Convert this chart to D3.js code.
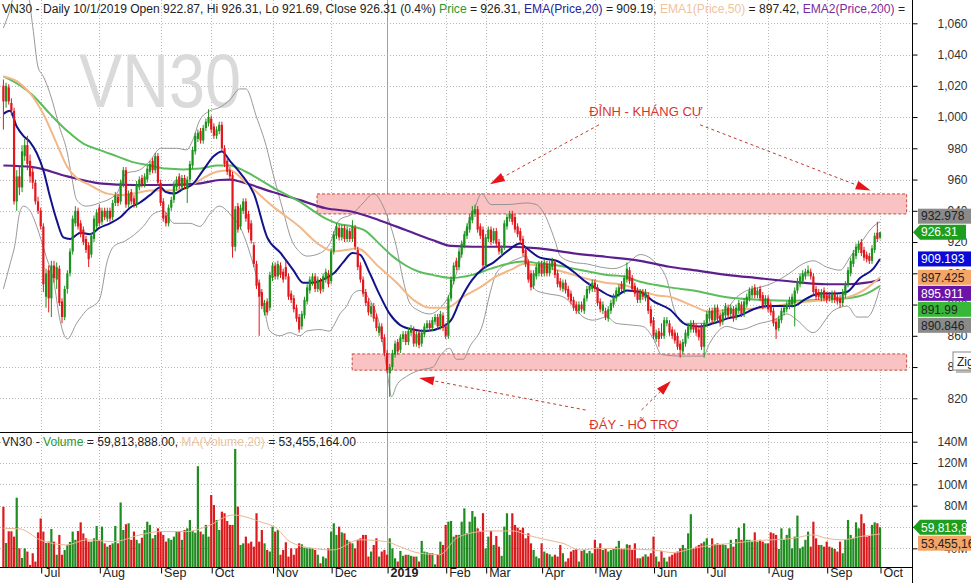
<!DOCTYPE html>
<html><head><meta charset="utf-8">
<script src="https://cdn.jsdelivr.net/npm/d3@7"></script>
<style>body{margin:0;background:#fff;overflow:hidden}svg{display:block;font-family:"Liberation Sans",Arial,sans-serif}</style>
</head><body><svg id="c" width="971" height="583"></svg>
<script>
// ---------- DATA ----------
const ohlc = [
[1020,1024,992,1010],[1010,1022,1006,1020],[1019,1021,1008,1010],[1009,1012,1001,1004],[1004,1006,944,946],
[946,966,940,962],[962,968,950,955],[955,982,952,978],[975,986,972,982],[982,988,966,970],
[972,976,958,962],[965,968,954,958],[958,960,944,946],[946,949,938,940],[940,942,928,930],
[930,932,888,893],[885,903,878,900],[902,905,875,884],[884,908,872,905],[905,908,894,897],
[896,907,890,904],[903,905,879,881],[882,884,868,872],[872,892,870,890],[890,902,887,900],
[900,916,898,914],[914,937,912,935],[932,943,930,940],[940,942,928,930],[932,934,923,925],
[928,930,918,920],[922,924,913,915],[918,920,904,909],[912,926,910,924],[922,937,920,935],
[930,941,928,939],[942,944,930,932],[933,942,931,940],[940,942,934,936],[935,942,933,940],
[940,942,933,935],[936,947,934,945],[945,952,943,950],[949,951,943,945],[946,960,944,958],
[957,968,955,966],[966,968,942,944],[944,953,942,951],[952,954,944,946],[948,950,942,944],
[944,959,942,957],[955,962,953,960],[961,963,955,957],[957,964,955,962],[960,969,958,967],
[965,972,963,970],[972,974,964,966],[966,977,964,975],[975,977,956,958],[958,960,943,945],
[946,948,933,935],[937,939,930,932],[932,944,930,942],[942,949,940,947],[947,959,945,957],
[955,962,953,960],[962,964,954,956],[955,963,953,961],[961,963,954,956],[954,962,945,960],
[960,972,958,970],[969,981,967,979],[978,990,976,988],[986,992,984,990],[991,993,983,985],
[985,995,983,993],[993,999,991,997],[996,1005,994,1000],[999,1001,990,992],[994,996,986,988],
[988,994,986,992],[991,997,989,995],[995,997,978,980],[980,982,968,970],[972,974,963,965],
[966,968,960,962],[963,965,910,917],[917,943,914,941],[943,945,926,928],[930,944,928,942],
[940,948,938,946],[946,948,933,935],[938,940,926,928],[932,934,919,921],[918,920,904,906],
[906,908,890,892],[894,896,860,885],[888,890,877,879],[875,883,873,881],[882,884,873,875],
[878,901,876,899],[897,907,895,905],[905,907,896,898],[898,908,896,906],[905,907,897,899],
[901,903,894,896],[904,908,896,898],[898,900,883,885],[887,889,881,883],[884,886,875,877],
[878,880,869,871],[872,874,862,864],[866,876,864,874],[873,885,871,883],[882,893,880,891],
[889,898,887,896],[894,900,892,898],[898,900,888,890],[890,898,888,896],[895,897,887,889],
[890,900,888,898],[896,903,894,901],[900,902,891,893],[895,916,893,914],[914,927,912,925],
[924,932,922,930],[929,931,921,923],[923,931,921,929],[929,931,920,922],[922,930,920,928],
[927,929,920,922],[922,934,920,930],[929,931,915,917],[915,917,902,904],[905,907,894,896],
[896,898,885,887],[888,890,879,881],[882,884,873,875],[874,881,872,879],[879,881,869,871],
[872,874,863,865],[862,868,860,866],[866,868,856,858],[859,861,847,849],[849,851,836,838],
[836,842,821,840],[840,851,838,849],[848,857,846,855],[856,858,848,850],[851,861,849,859],
[858,863,856,861],[861,863,854,856],[856,865,854,863],[862,867,860,865],[864,866,853,855],
[855,863,853,861],[862,864,852,854],[855,864,853,862],[861,868,859,866],[865,870,863,868],
[868,870,863,865],[865,872,863,870],[869,874,867,872],[872,874,864,866],[866,876,864,874],
[873,875,863,865],[866,868,858,860],[860,886,858,884],[884,898,882,896],[895,907,893,905],
[908,910,902,904],[904,916,902,914],[912,921,910,919],[918,927,916,925],[924,932,922,930],
[928,938,926,936],[934,943,932,940],[938,944,936,941],[941,943,926,928],[930,932,922,924],
[928,930,903,905],[905,925,903,923],[922,930,920,928],[928,930,918,920],[921,929,919,927],
[927,929,917,919],[920,922,912,914],[913,918,911,916],[917,934,915,932],[930,938,928,936],
[935,940,933,938],[938,940,931,933],[936,938,926,928],[930,932,923,925],[927,929,919,921],
[922,924,911,913],[915,917,904,906],[907,909,894,896],[900,902,889,891],[892,902,890,900],
[898,906,896,904],[900,908,898,906],[906,908,898,900],[900,909,898,907],[906,908,898,900],
[900,908,898,906],[904,910,902,908],[907,909,897,899],[900,902,891,893],[895,897,889,891],
[890,896,888,894],[894,896,887,889],[890,892,883,885],[887,889,880,882],[883,885,876,878],
[880,882,874,876],[876,882,874,880],[880,882,875,877],[876,886,874,884],[884,892,882,890],
[889,894,887,892],[890,896,888,894],[894,896,888,890],[891,893,879,881],[882,884,875,877],
[876,882,874,880],[876,878,870,872],[871,879,869,877],[876,883,874,881],[880,887,878,885],
[884,891,882,889],[887,893,885,891],[893,895,888,890],[889,899,887,897],[896,907,894,903],
[902,904,893,895],[897,899,888,890],[892,894,885,887],[889,891,881,883],[883,890,881,888],
[888,890,883,885],[884,890,882,888],[886,888,874,876],[877,879,866,868],[870,872,858,860],
[858,864,856,862],[863,865,853,858],[862,868,858,860],[860,872,858,870],[868,872,866,870],
[868,870,860,862],[864,866,858,860],[862,864,855,857],[860,862,851,853],[855,857,846,851],
[850,858,848,856],[855,864,853,862],[860,868,858,866],[864,870,862,868],[868,870,862,864],
[866,868,860,862],[864,866,857,859],[866,868,851,853],[853,870,846,868],[868,876,866,874],
[871,878,869,876],[876,878,868,870],[870,880,868,878],[878,880,869,871],[873,875,866,868],
[869,877,867,875],[873,881,871,879],[878,880,871,873],[874,880,872,878],[877,879,869,871],
[872,880,870,878],[876,883,874,881],[880,882,872,874],[874,884,872,882],[880,887,878,885],
[884,891,882,889],[886,892,884,890],[891,893,884,886],[886,891,884,889],[890,892,882,884],
[886,888,877,879],[880,886,878,884],[884,886,875,877],[880,882,873,875],[876,878,866,868],
[869,871,858,864],[865,873,863,871],[870,878,868,876],[875,880,873,878],[877,882,875,880],
[879,885,877,883],[880,887,878,885],[881,891,866,889],[889,897,887,895],[893,900,891,898],
[895,902,893,900],[898,903,896,901],[900,905,898,902],[901,903,896,898],[898,900,886,888],
[890,892,883,885],[888,890,883,885],[884,890,882,888],[889,891,882,884],[886,888,881,883],
[886,888,882,884],[883,889,881,887],[887,889,881,883],[885,887,880,882],[884,886,878,881],
[881,890,879,888],[886,895,884,893],[893,904,891,902],[900,910,898,908],[906,915,904,913],
[911,919,909,917],[915,921,913,919],[920,922,911,913],[915,917,908,910],[912,914,907,909],
[911,913,906,908],[908,918,906,916],[915,926,913,924],[926,933,920,922],[922.87,926.31,921.69,926.31]
];
// volume, millions of shares
const volumes = [
79,45,56,56,51,87.5,40,31,40,37,24.5,35.4,27.6,55,68,55.7,45,46.3,58.2,46.3,
34,52.6,34,38.5,43,46,55.7,48,56.3,64.4,54,49.4,46.3,46.3,49.4,61,48,60.4,44.7,41.6,
43.2,44.7,61,44.7,83,57.2,62.6,63.5,48,55.7,48,44.7,50,57.2,65,62,49.4,52.6,58.8,55.7,
52.6,46.3,49.4,48,51,55.7,56.3,48,57.2,58.8,66.6,56.3,54.7,117,55.7,53.2,62,51,90,80.6,
66.6,57.2,74.4,72.9,65.7,62,62,133.2,79.1,43.2,44.7,51,44.7,46.3,41.6,72.9,46.3,57.2,44.7,38.5,
37,60.4,55.7,57.2,34,38.5,45.7,32.3,40,34,40,44.7,43.8,40.7,40,40,40,38.5,34,26,
32.3,30.7,40,55.7,63.5,52.6,60.4,55,54.1,48,46.3,44.7,40,48,49.4,52.6,52.6,32.3,37,43.2,
49.4,32.3,37,38.5,34,49.4,40,30.7,27.6,37.6,33,34,34,33,32.3,32.3,27.6,47,37,36.3,
35.4,35.4,25,34,46.3,43.2,62,65,65.7,51,52.6,52.6,65,77.5,54.1,65,75,69.7,58.8,56,
73,40,51,56.3,43.2,51.6,41.6,33,60.4,72.9,52.6,72.9,62,59.4,57.2,59.4,49.4,54.1,44.7,38.5,
32.3,30.7,44.7,37,35.4,34.4,32.3,34,32.3,43.2,35.4,27.6,30.7,37,38.5,39.4,27.6,37.6,38.5,35.4,
37.6,35.4,48,40.7,44.7,38.5,39.4,37,38.5,39.4,41.6,47,39.4,39.4,43.8,43.2,38.5,44.7,30.7,30.7,
32.3,34.4,32.3,35.4,51,32.3,27.6,37.6,31.3,27.6,32.3,34,35.4,37,40,43.2,40,54.1,72,40,
41.6,43.2,44.7,46.3,49.4,40.7,49.4,43.8,44.7,43.2,43.8,43.2,40,48,41.6,48.8,59.4,48,63.5,48,
48,46.3,55,46.3,48,46.3,44.7,44.7,55,54.1,52.6,39.4,58.8,48,52.6,58.8,40,51,70.7,40,
41.6,48,55.7,41.6,65,49.4,43.2,43.2,41.6,46.3,41.6,40.7,39.4,37,46.3,35.4,48,66.6,52.6,49.4,
64.4,58.8,72,63.5,51,51.6,62,64.4,63.5,59.813888
];
// month boundaries (trading-day index) and labels
const monthIdx = [14,36,59,78,101,123,144,166,181,202,222,244,264,287,309,329];
const monthLabels = ['Jul','Aug','Sep','Oct','Nov','Dec','2019','Feb','Mar','Apr','May','Jun','Jul','Aug','Sep','Oct'];
const priceTicks = [820,840,860,880,900,920,940,960,980,1000,1020,1040,1060];
const volTicks = [40,60,80,100,120,140];
// indicator lines: [day index, value]
const ema20 = [[0,1002],[2.5,1004],[5,994],[7.5,988],[10,984],[12.5,977],[15,966],[17.5,949],[20,934],[22.5,923],[25,922],[29,926],[32.5,925],[36,929],[40,932],[44,936],[47.5,942],[51,945],[55,950],[59,955],[61,952],[64,951],[67.5,954],[71,957],[75,966],[79,975],[82,978],[85,972],[89,964],[94,951],[99,923],[104,913],[108.8,902],[112.5,894],[116,894],[120,896],[124,900],[127.5,907],[131,913],[133.8,912],[137.5,900],[141,887],[145,874],[148.8,867],[153.8,864],[158.8,863],[163.8,865],[168,870],[171.5,883],[176,896],[180,903],[184,907],[189,914],[194,919],[196.4,916],[201.4,910],[207.6,908],[214,901],[219,894],[224,889],[229,885],[234,889],[239,888],[244,882],[250,877],[256.5,867],[261.5,866],[266.5,868],[271.5,871],[276.5,873],[281.5,877],[286.5,879],[291.5,879],[296.5,879],[301.5,884],[306.5,887],[311.5,887],[316.5,888],[321.5,897],[326.5,903],[329,909.19]];
const ema50 = [[0,1026],[5,1023],[11,1013],[15,1002],[20,983],[24,968],[27.5,961],[32.5,956.5],[39,951],[44,950],[49,951],[55,953],[61,953],[67.5,954],[74,960],[80,965],[85,966],[91,958],[101,943],[111,930],[118.8,918],[124,914],[129,915],[132.6,916],[141,904],[147.6,894],[153.9,883],[160,878],[166.4,878],[172.6,885],[178.9,891],[185,898],[191.4,903],[195,906],[201,905],[208,902],[214,899],[220,896],[226,894],[233,892.5],[239,889],[245,886],[250,885],[259,879],[265,875.4],[271.5,876.5],[284,877.6],[296.5,881],[309,883],[316.5,884.6],[324,890.4],[329,897.42]];
const ema200 = [[0,969],[11,968],[24,962],[36,957.6],[49,956.5],[61,956.5],[74,957.6],[81,959.7],[85,960],[91,957.6],[101,952],[111,947],[121,941.6],[131,939.4],[141,934],[151,927.7],[161,921.3],[168,917.5],[176,917],[189,917],[201,916],[214,912.8],[226,910.6],[239,908],[250,904.2],[259,902],[271.5,899],[284,896.8],[296.5,894.6],[309,893],[316.5,893],[324,894],[329,895.91]];
const ema100 = [[0,1026],[6,1020.5],[11,1014],[17.5,1002],[24,991],[30,983],[36,979],[42.5,975],[49,971],[55,969],[61,967],[67.5,966.5],[74,967],[80,969],[85,969],[91,965],[101,955],[111,946],[121,935],[126,931.5],[131,930],[136,927],[141,919],[146,911],[151,905],[156,901],[161,899],[168,897],[176,899],[183,903],[189,906],[195,907.5],[201,906.4],[208,905],[214,903],[220,901],[226,899],[233,898],[239,894.6],[245,892.5],[250,891],[259,889],[271.5,884.6],[284,883],[296.5,882.5],[309,883.3],[316.5,884],[324,887],[329,891.99]];
const bbUpper = [[0,1057],[2,1066],[5,1082],[9,1080],[11,1058],[13,1032],[15,1026],[17.5,1015],[21,994],[24,977],[25.6,962],[27.5,947],[31,943],[36,945],[42.5,951],[46,964],[51,966],[55,972],[59,980],[65,980],[68.7,979],[71,985],[73.7,998],[77.5,1004],[81,1006],[85,1011],[88.7,1018],[91,1018],[95,1000],[98.7,981],[101,965],[105,940],[108,922],[111,914],[114,911],[119,913],[122.5,919],[126,934],[131,938],[135,945],[139,951],[142.5,943],[145,932],[147.5,917],[150,896],[152.5,881],[156,876],[160,874],[164,878],[167.5,887],[171.5,910],[174,930],[176.5,940],[179.5,951],[183,944],[189,944],[196.4,945],[200,944],[203,938],[207,921],[209,911],[214,907],[219,906],[224,904],[229,903],[234,906],[239,912],[244,908],[249,896],[251.4,879],[255,868],[264,868],[270,874],[275.4,885],[279,889],[284,891],[289,894],[295,900],[300,906],[304,908],[309,904],[314,902],[318,911],[321.6,919],[326.5,930],[329,932.978]];
const bbLower = [[0,890],[2.5,906],[4.4,919],[6,938],[7.5,943],[10,940],[12.5,930],[16,911],[19,894],[21,872],[24,858],[27.5,868],[31,876],[36,883],[39,908],[41.3,917],[46,921],[52.5,930],[56.3,938],[60,940],[64,932],[70,932],[73.7,930],[77.5,938],[81,943],[86,936],[88.7,930],[92.5,913],[95,898],[97.5,881],[100,863],[103.8,860],[107.5,862],[111.3,860],[113.8,863],[118.8,864],[122.5,863],[123.8,866],[126.3,874],[128.8,879],[131.3,887],[133.8,889],[137.5,883],[141.3,866],[143.8,840],[145.7,821],[147.5,828],[151.3,834],[156.3,838],[161.3,840],[163.8,847],[167.5,852],[170,845],[172.6,845],[175,853],[180,868],[182.6,887],[185,900],[189,906],[192.6,909],[196.4,911],[197.6,896],[200,889],[204,887],[210,885],[214,879],[217.6,872],[221.4,870],[226.4,872],[230,868],[235,867],[240,866],[244,858],[247,848],[255,847],[262.7,847],[265,855],[271.5,866],[276.5,864],[284,868],[288.9,870],[294.1,874],[297.9,870],[303.9,862],[311.4,876],[316.7,879],[320.4,872],[324.2,872],[329,890.846]];
const volMA20 = [[0,58.8],[6.25,58.2],[13.75,48],[23.75,43.2],[31.25,48],[41.25,46.3],[51.25,52.6],[58.75,55.7],[68.75,55.7],[76.25,60.4],[86.25,71.3],[96.25,65],[102.5,58.8],[107.5,46.3],[116.25,40],[123.75,38.5],[133.75,48],[143.75,46.3],[148.75,41.6],[156.25,35.4],[163.75,34],[170,49.4],[178.75,55.7],[181.4,56.3],[191.4,56.3],[196.4,52.6],[203.9,48],[210,44.7],[216.4,38.5],[223.9,40],[233.9,39.4],[243.9,38.5],[251.4,36],[258.9,40],[266.4,43.2],[273.9,44.7],[281.4,47],[288.9,48],[296.4,49.4],[303.9,52.6],[308.9,49.4],[315.1,48],[321.4,51],[329,53.455164]];
// support / resistance zones: [start index, low price, high price]
const zones = [[117.7,938,950.8],[130.9,838,848.4]];
// annotation texts and arrows ([from index, price] -> [to index, price])
const noteTexts = [['ĐỈNH - KHÁNG CỰ',241.2,1000.5],['ĐÁY - HỖ TRỢ',236.7,800.6]];
const noteArrows = [[[223.5,995],[182.6,957]],[[261.5,995],[325.5,953]],[[218.5,812.5],[156,833]],[[239.5,812.5],[250.5,831]]];
const lastVals = {price:926.31, ema20:909.19, ema50:897.42, ema200:895.911, ema100:891.99, bbU:932.978, bbL:890.846, ema20f:909.193, ema50f:897.425, vol:59813888, volMA:53455164};

// ---------- LAYOUT ----------
const W=971, H=583, R=912, pTop=0, pBot=432, vTop=432, vBot=567;
const N = ohlc.length;
const svg = d3.select('#c');
const x = d3.scaleLinear().domain([0,329]).range([3.4,880]);
const y = d3.scaleLinear().domain([820,1060]).range([398.3,23.3]);
const yv = d3.scaleLinear().domain([0,140]).range([591.0,441.7]);
const C = {green:'#1c921c', red:'#e3161c', vgreen:'#1f8c1f', vred:'#dc1a1d', grid:'#b8b8b8', text:'#222',
  ema20:'#12128c', ema50:'#f3b887', ema200:'#5e1f8e', ema100:'#5cbd5c', bb:'#8c8c8c'};

const defs = svg.append('defs');
defs.append('clipPath').attr('id','cp').append('rect').attr('x',0).attr('y',pTop).attr('width',R).attr('height',pBot-pTop);
defs.append('clipPath').attr('id','cv').append('rect').attr('x',0).attr('y',vTop).attr('width',R).attr('height',vBot-vTop);

svg.append('rect').attr('width',W).attr('height',H).attr('fill','#fff');

// gridlines
const grid = svg.append('g');
priceTicks.forEach(p=>{ const yy=Math.round(y(p))+0.5;
  grid.append('line').attr('x1',0).attr('x2',R).attr('y1',yy).attr('y2',yy).attr('stroke',C.grid).attr('stroke-dasharray','1,2');});
volTicks.forEach(v=>{ const yy=Math.round(yv(v))+0.5;
  grid.append('line').attr('x1',0).attr('x2',R).attr('y1',yy).attr('y2',yy).attr('stroke',C.grid).attr('stroke-dasharray','1,2');});
monthIdx.forEach((m,i)=>{ const xx=Math.round(x(m))+0.5;
  const solid = monthLabels[i]==='2019';
  grid.append('line').attr('x1',xx).attr('x2',xx).attr('y1',0).attr('y2',vBot)
    .attr('stroke',solid?'#a0a0a0':C.grid).attr('stroke-dasharray',solid?null:'1,2');});

// watermark
svg.append('text').attr('x',79).attr('y',107).attr('font-size',76).attr('fill','#dadada')
  .attr('textLength',162).attr('lengthAdjust','spacingAndGlyphs').text('VN30');

// ---------- PRICE PANEL ----------
const gp = svg.append('g').attr('clip-path','url(#cp)');
zones.forEach(z=>{
  gp.append('rect').attr('x',x(z[0])).attr('y',y(z[2])).attr('width',x(339)-x(z[0])).attr('height',y(z[1])-y(z[2]))
    .attr('fill','#f9c3c3').attr('stroke','#c0392b').attr('stroke-width',0.9).attr('stroke-dasharray','3,2');
});
const ln = d3.line().x(d=>x(d[0])).y(d=>y(d[1])).curve(d3.curveMonotoneX);
[[bbUpper,C.bb,0.9],[bbLower,C.bb,0.9],[ema200,C.ema200,2.2],[ema100,C.ema100,2],[ema50,C.ema50,2],[ema20,C.ema20,2]].forEach(s=>{
  gp.append('path').attr('d',ln(s[0])).attr('fill','none').attr('stroke',s[1]).attr('stroke-width',s[2]);
});
// candles
const cg = gp.append('g');
ohlc.forEach((d,i)=>{
  const up = d[3]>=d[0], col = up?C.green:C.red, cx=x(i);
  cg.append('line').attr('x1',cx).attr('x2',cx).attr('y1',y(d[1])).attr('y2',y(d[2])).attr('stroke',col).attr('stroke-width',1);
  const t=y(Math.max(d[0],d[3])), b=y(Math.min(d[0],d[3]));
  cg.append('rect').attr('x',cx-1.1).attr('width',2.2).attr('y',t).attr('height',Math.max(1,b-t)).attr('fill',col);
});

// annotations
const ag = svg.append('g');
noteTexts.forEach(n=>{
  ag.append('text').attr('x',x(n[1])).attr('y',y(n[2])).attr('text-anchor','middle').attr('font-size',13)
    .attr('fill','#d9342b').text(n[0]);
});
noteArrows.forEach(a=>{
  const x1=x(a[0][0]), y1=y(a[0][1]), x2=x(a[1][0]), y2=y(a[1][1]);
  const ang=Math.atan2(y2-y1,x2-x1), L=15, hw=4.5;
  const bx=x2-L*Math.cos(ang), by=y2-L*Math.sin(ang);
  ag.append('line').attr('x1',x1).attr('y1',y1).attr('x2',bx).attr('y2',by).attr('stroke','#c0392b').attr('stroke-width',1).attr('stroke-dasharray','3,3');
  const px=-Math.sin(ang)*hw, py=Math.cos(ang)*hw;
  ag.append('path').attr('d',`M${x2},${y2}L${bx+px},${by+py}L${bx-px},${by-py}Z`).attr('fill','#e8141a');
});

// ---------- VOLUME PANEL ----------
const gv = svg.append('g').attr('clip-path','url(#cv)');
volumes.forEach((v,i)=>{
  const d=ohlc[i], col = d[3]>=d[0]?C.vgreen:C.vred, top=yv(v);
  if(top<vBot) gv.append('rect').attr('x',x(i)-1.1).attr('width',2.2).attr('y',top).attr('height',vBot-top).attr('fill',col);
});
gv.append('path').attr('d',d3.line().x(d=>x(d[0])).y(d=>yv(d[1])).curve(d3.curveMonotoneX)(volMA20))
  .attr('fill','none').attr('stroke','#e9b690').attr('stroke-width',1);

// frame lines
svg.append('line').attr('x1',0).attr('x2',R).attr('y1',pBot+0.5).attr('y2',pBot+0.5).attr('stroke','#000');
svg.append('line').attr('x1',0).attr('x2',R).attr('y1',vBot+0.5).attr('y2',vBot+0.5).attr('stroke','#000');
svg.append('line').attr('x1',R+0.5).attr('x2',R+0.5).attr('y1',0).attr('y2',H).attr('stroke','#000');

// right axes
const axP = svg.append('g').attr('transform',`translate(${R+0.5},0)`)
  .call(d3.axisRight(y).tickValues(priceTicks).tickFormat(d3.format(',')).tickSize(5).tickPadding(0));
const axV = svg.append('g').attr('transform',`translate(${R+0.5},0)`)
  .call(d3.axisRight(yv).tickValues(volTicks).tickFormat(d=>d+'M').tickSize(5).tickPadding(0));
[axP,axV].forEach(a=>{ a.select('.domain').remove();
  a.selectAll('text').attr('text-anchor','end').attr('x',55).attr('font-size',12).attr('font-family','"Liberation Sans",Arial,sans-serif').attr('fill','#333');
  a.selectAll('line').attr('stroke','#000');});

// bottom axis
const axX = svg.append('g').attr('transform',`translate(0,${vBot+0.5})`)
  .call(d3.axisBottom(x).tickValues(monthIdx).tickFormat((d,i)=>monthLabels[i]).tickSize(6).tickPadding(0));
axX.select('.domain').remove();
axX.selectAll('.tick line').attr('stroke','#000').attr('transform','translate(0.5,0)');
axX.selectAll('text').attr('text-anchor','start').attr('x',3).attr('y',1).attr('dy','0.71em').attr('font-size',12.5)
  .attr('font-family','"Liberation Sans",Arial,sans-serif').attr('fill','#222')
  .attr('font-weight',(d,i)=>monthLabels[i]==='2019'?'bold':null);

// right-side value labels
const lab = svg.append('g').attr('font-size',12);
function box(yc,txt,bg,fg,arrow){
  const h=15, top=yc-h/2;
  if(arrow){
    lab.append('path').attr('d',`M${R+1},${yc}L${R+8},${top}L${R+54},${top}L${R+54},${top+h}L${R+8},${top+h}Z`).attr('fill',bg);
  } else {
    lab.append('rect').attr('x',R+6).attr('y',top).attr('width',60).attr('height',h).attr('fill',bg);
  }
  lab.append('text').attr('x',R+9).attr('y',yc+4.3).attr('fill',fg).text(txt);
}
const L0 = lastVals;
const above = [[L0.bbU,'932.978','#8a8a8a','#222']];
const below = [[L0.ema20f,'909.193','#0909d8','#fff'],[L0.ema50f,'897.425','#f3a668','#222'],[L0.ema200,'895.911','#6a14a8','#fff'],[L0.ema100,'891.99','#38b838','#222'],[L0.bbL,'890.846','#8a8a8a','#222']];
const py0 = y(L0.price);
let prev = py0;
above.forEach(a=>{ const yy=Math.min(y(a[0]),prev-16); box(yy,a[1],a[2],a[3]); prev=yy; });
prev = py0;
below.forEach(a=>{ const yy=Math.max(y(a[0]),prev+16); box(yy,a[1],a[2],a[3]); prev=yy; });
box(py0,d3.format('.2f')(L0.price),'#1e9e1e','#fff',true);
const vy0 = yv(L0.vol/1e6);
box(vy0,d3.format(',')(L0.vol),'#1e9e1e','#fff',true);
box(Math.max(yv(L0.volMA/1e6),vy0+16),d3.format(',')(L0.volMA),'#f3a668','#222');

// "Zig" tooltip fragment
svg.append('rect').attr('x',956).attr('y',355).attr('width',20).attr('height',18).attr('fill','#bbb');
svg.append('rect').attr('x',953).attr('y',352).attr('width',22).attr('height',18).attr('fill','#fff').attr('stroke','#888');
svg.append('text').attr('x',957).attr('y',366).attr('font-size',12).attr('fill','#222').text('Zig');

// header texts
const last = ohlc[N-1];
const f2 = d3.format('.2f');
const t1 = svg.append('text').attr('x',2).attr('y',12.5).attr('font-size',12).attr('fill',C.text)
  .attr('textLength',903).attr('lengthAdjust','spacingAndGlyphs');
t1.append('tspan').text(`VN30 - Daily 10/1/2019 Open ${f2(last[0])}, Hi ${f2(last[1])}, Lo ${f2(last[2])}, Close ${f2(last[3])} (0.4%) `);
t1.append('tspan').attr('fill','#2a9a2a').text('Price');
t1.append('tspan').text(` = ${f2(L0.price)}, `);
t1.append('tspan').attr('fill','#23239b').text('EMA(Price,20)');
t1.append('tspan').text(` = ${f2(L0.ema20)}, `);
t1.append('tspan').attr('fill','#f0c39c').text('EMA1(Price,50)');
t1.append('tspan').text(` = ${f2(L0.ema50)}, `);
t1.append('tspan').attr('fill','#7b2c9c').text('EMA2(Price,200)');
t1.append('tspan').text(' =');

const t2 = svg.append('text').attr('x',2).attr('y',445.5).attr('font-size',12).attr('fill',C.text)
  .attr('textLength',354).attr('lengthAdjust','spacingAndGlyphs');
t2.append('tspan').text('VN30 - ');
t2.append('tspan').attr('fill','#2a9a2a').text('Volume');
t2.append('tspan').text(` = ${d3.format(',.2f')(L0.vol)}, `);
t2.append('tspan').attr('fill','#f0c39c').text('MA(Volume,20)');
t2.append('tspan').text(` = ${d3.format(',.2f')(L0.volMA)}`);
</script></body></html>
